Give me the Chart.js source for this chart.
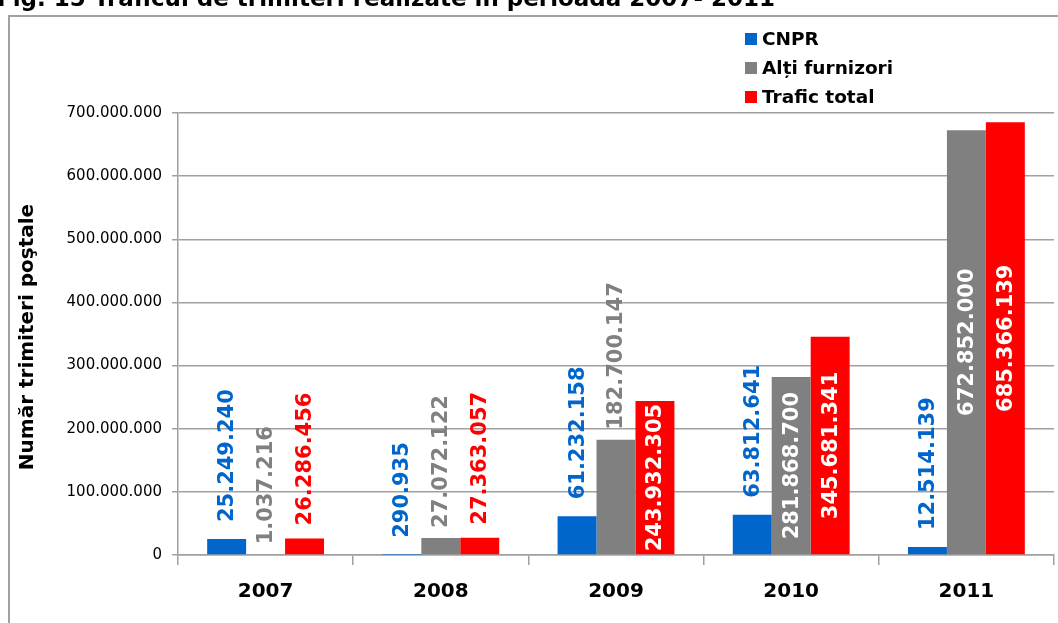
<!DOCTYPE html>
<html>
<head>
<meta charset="utf-8">
<script src="https://cdn.jsdelivr.net/npm/chart.js@4.4.1/dist/chart.umd.min.js"></script>
<style>
html,body{margin:0;padding:0;background:#fff;}
#wrap{position:relative;width:1058px;height:623px;}
</style>
</head>
<body>
<div id="wrap"><canvas id="c" width="1058" height="623"></canvas></div>
<script>
const categories = ['2007', '2008', '2009', '2010', '2011'];
const seriesNames = ['CNPR', 'Alți furnizori', 'Trafic total'];
const cnpr = [25249240, 290935, 61232158, 63812641, 12514139];
const altiFurnizori = [1037216, 27072122, 182700147, 281868700, 672852000];
const traficTotal = [26286456, 27363057, 243932305, 345681341, 685366139];
const yTicks = [0, 100000000, 200000000, 300000000, 400000000, 500000000, 600000000, 700000000];
const titleText = 'Fig. 15 Traficul de trimiteri realizate în perioada 2007- 2011';
const yTitle = 'Număr trimiteri poştale';

const colors = ['#0066CC', '#808080', '#FF0000'];
const FONT = "'DejaVu Sans', Verdana, sans-serif";
const fmt = v => String(Math.round(v)).replace(/\B(?=(\d{3})+(?!\d))/g, '.');

const decorPlugin = {
  id: 'decor',
  beforeDraw(chart) {
    const ctx = chart.ctx;
    ctx.save();
    ctx.fillStyle = '#fff';
    ctx.fillRect(0, 0, chart.width, chart.height);
    ctx.strokeStyle = '#A0A0A0';
    ctx.lineWidth = 2;
    ctx.strokeRect(9, 16, 1200, 800);
    ctx.fillStyle = '#000';
    ctx.font = 'bold 23px ' + FONT;
    ctx.textBaseline = 'alphabetic';
    ctx.textAlign = 'left';
    ctx.fillText(titleText, -3, 6);
    ctx.restore();
  },
  afterDraw(chart) {
    const ctx = chart.ctx;
    ctx.save();
    ctx.translate(28, 337);
    ctx.rotate(-Math.PI / 2);
    ctx.fillStyle = '#000';
    ctx.font = 'bold 20px ' + FONT;
    ctx.textAlign = 'center';
    ctx.textBaseline = 'middle';
    ctx.fillText(yTitle, 0, 0);
    ctx.restore();
    ctx.save();
    ctx.font = 'bold 18.5px ' + FONT;
    ctx.textBaseline = 'middle';
    ctx.textAlign = 'left';
    const rows = [39, 68, 97];
    seriesNames.forEach((n, i) => {
      ctx.fillStyle = colors[i];
      ctx.fillRect(745, rows[i] - 6, 12, 12);
      ctx.fillStyle = '#000';
      ctx.fillText(n, 762, rows[i] + 1);
    });
    ctx.restore();
  }
};

const labelPlugin = {
  id: 'barLabels',
  afterDatasetsDraw(chart) {
    const ctx = chart.ctx;
    ctx.save();
    ctx.font = 'bold 21px ' + FONT;
    ctx.textBaseline = 'middle';
    const gaps = [17, 10, 13];
    chart.data.datasets.forEach((ds, di) => {
      const meta = chart.getDatasetMeta(di);
      meta.data.forEach((bar, i) => {
        const txt = fmt(ds.data[i]);
        const w = ctx.measureText(txt).width;
        const h = bar.base - bar.y;
        ctx.save();
        if (w <= h) {
          ctx.translate(bar.x, (bar.y + bar.base) / 2);
          ctx.rotate(-Math.PI / 2);
          ctx.textAlign = 'center';
          ctx.fillStyle = '#fff';
          ctx.fillText(txt, 0, 1);
        } else {
          ctx.translate(bar.x, bar.y - gaps[di]);
          ctx.rotate(-Math.PI / 2);
          ctx.textAlign = 'left';
          ctx.fillStyle = colors[di];
          ctx.fillText(txt, 0, 1);
        }
        ctx.restore();
      });
    });
    ctx.restore();
  }
};

new Chart(document.getElementById('c'), {
  type: 'bar',
  data: {
    labels: categories,
    datasets: [
      { label: seriesNames[0], data: cnpr, backgroundColor: colors[0] },
      { label: seriesNames[1], data: altiFurnizori, backgroundColor: colors[1] },
      { label: seriesNames[2], data: traficTotal, backgroundColor: colors[2] }
    ]
  },
  options: {
    responsive: false,
    animation: false,
    devicePixelRatio: 1,
    layout: { padding: { left: 0, top: 113, right: 4, bottom: 0 } },
    datasets: { bar: { categoryPercentage: 0.667, barPercentage: 1.0, borderWidth: 0 } },
    plugins: { legend: { display: false }, tooltip: { enabled: false }, title: { display: false } },
    scales: {
      x: {
        offset: true,
        afterFit(s) { s.height = 68; },
        grid: {
          offset: true,
          drawOnChartArea: true,
          color: c => (c.index === categories.length ? '#A0A0A0' : 'rgba(0,0,0,0)'),
          tickColor: '#A0A0A0',
          tickLength: 10,
          lineWidth: 1.5
        },
        border: { color: '#A0A0A0', width: 1.5 },
        ticks: { color: '#000', font: { family: FONT, size: 20, weight: 'bold' }, padding: 15 }
      },
      y: {
        min: 0,
        max: 700000000,
        afterFit(s) { s.width = 178; },
        afterBuildTicks(s) { s.ticks = yTicks.map(v => ({ value: v })); },
        grid: { color: '#A0A0A0', tickColor: '#A0A0A0', tickLength: 6, lineWidth: 1.5 },
        border: { color: '#A0A0A0', width: 1.5 },
        ticks: {
          color: '#000',
          font: { family: FONT, size: 15 },
          padding: 10,
          callback: v => fmt(v)
        }
      }
    }
  },
  plugins: [decorPlugin, labelPlugin]
});
</script>
</body>
</html>
